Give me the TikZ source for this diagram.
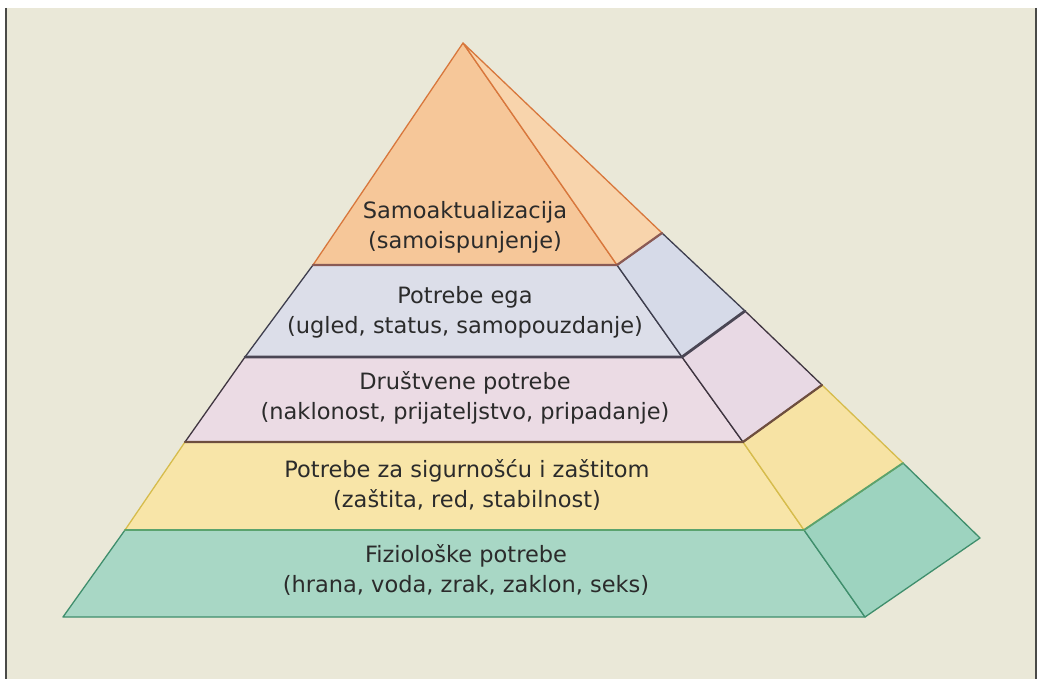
\documentclass[tikz,border=0pt]{standalone}
\usepackage{fontspec}
\setmainfont{DejaVu Sans}
\definecolor{bg}{HTML}{EAE8D8}
\definecolor{frameline}{HTML}{4A4A48}
\definecolor{txt}{HTML}{2B2B2B}
\definecolor{orF}{HTML}{F6C799}
\definecolor{orS}{HTML}{F8D4AC}
\definecolor{orL}{HTML}{D8773C}
\definecolor{blF}{HTML}{DCDEE9}
\definecolor{blS}{HTML}{D6DAE8}
\definecolor{blL}{HTML}{3E3E4E}
\definecolor{piF}{HTML}{EBDBE4}
\definecolor{piS}{HTML}{E8D9E4}
\definecolor{piL}{HTML}{3F3540}
\definecolor{yeF}{HTML}{F8E5A8}
\definecolor{yeS}{HTML}{F7E3A4}
\definecolor{yeL}{HTML}{D6BC4C}
\definecolor{teF}{HTML}{A8D7C5}
\definecolor{teS}{HTML}{9DD3BF}
\definecolor{teL}{HTML}{3F8E6C}
\definecolor{b12}{HTML}{8A5A55}
\definecolor{b23}{HTML}{4A4654}
\definecolor{b34}{HTML}{6E4E3E}
\definecolor{b45}{HTML}{5AA36E}
\tikzset{
  face/.style={line width=1.3pt, line join=round},
  border/.style={line width=2.2pt, line cap=round},
  label/.style={text=txt, font=\fontsize{22.5}{30}\selectfont, align=center, inner sep=0pt}
}
\begin{document}
\begin{tikzpicture}[x=1pt,y=-1pt]
\useasboundingbox (0,0) rectangle (1039,679);
\fill[white] (0,0) rectangle (1039,679);
\fill[bg] (6,8) rectangle (1036,679);
\draw[frameline, line width=1.5pt] (6,8) -- (6,679);
\draw[frameline, line width=1.5pt] (1036,8) -- (1036,679);

% coordinates
\coordinate (A) at (463,43);
\coordinate (L1) at (313,265); \coordinate (R1) at (617,265); \coordinate (S1) at (662,233);
\coordinate (L2) at (245,357); \coordinate (R2) at (682,357); \coordinate (S2) at (745,311);
\coordinate (L3) at (185,442); \coordinate (R3) at (743,442); \coordinate (S3) at (822,385);
\coordinate (L4) at (125,530); \coordinate (R4) at (804,530); \coordinate (S4) at (903,463);
\coordinate (L5) at (63,617);  \coordinate (R5) at (865,617); \coordinate (S5) at (980,538);

% tier 5 (teal)
\draw[face, fill=teF, draw=teL] (L4) -- (R4) -- (R5) -- (L5) -- cycle;
\draw[face, fill=teS, draw=teL] (R4) -- (S4) -- (S5) -- (R5) -- cycle;
% tier 4 (yellow)
\draw[face, fill=yeF, draw=yeL] (L3) -- (R3) -- (R4) -- (L4) -- cycle;
\draw[face, fill=yeS, draw=yeL] (R3) -- (S3) -- (S4) -- (R4) -- cycle;
% tier 3 (pink)
\draw[face, fill=piF, draw=piL] (L2) -- (R2) -- (R3) -- (L3) -- cycle;
\draw[face, fill=piS, draw=piL] (R2) -- (S2) -- (S3) -- (R3) -- cycle;
% tier 2 (blue)
\draw[face, fill=blF, draw=blL] (L1) -- (R1) -- (R2) -- (L2) -- cycle;
\draw[face, fill=blS, draw=blL] (R1) -- (S1) -- (S2) -- (R2) -- cycle;
% tier 1 (orange)
\draw[face, fill=orF, draw=orL] (A) -- (R1) -- (L1) -- cycle;
\draw[face, fill=orS, draw=orL] (A) -- (S1) -- (R1) -- cycle;

% borders between tiers
\draw[border, b12] (L1) -- (R1) -- (S1);
\draw[border, b23, line width=2.8pt] (L2) -- (R2) -- (S2);
\draw[border, b34] (L3) -- (R3) -- (S3);
\draw[border, b45, line width=1.8pt] (L4) -- (R4) -- (S4);

% labels
\node[label] (t1) at (465,227) {Samoaktualizacija\\(samoispunjenje)};
\node[label] (t2) at (465,312) {Potrebe ega\\(ugled, status, samopouzdanje)};
\node[label] (t3) at (465,398) {Društvene potrebe\\(naklonost, prijateljstvo, pripadanje)};
\node[label] (t4) at (467,485) {Potrebe za sigurnošću i zaštitom\\(zaštita, red, stabilnost)};
\node[label] (t5) at (466,570) {Fiziološke potrebe\\(hrana, voda, zrak, zaklon, seks)};
\end{tikzpicture}
\end{document}
